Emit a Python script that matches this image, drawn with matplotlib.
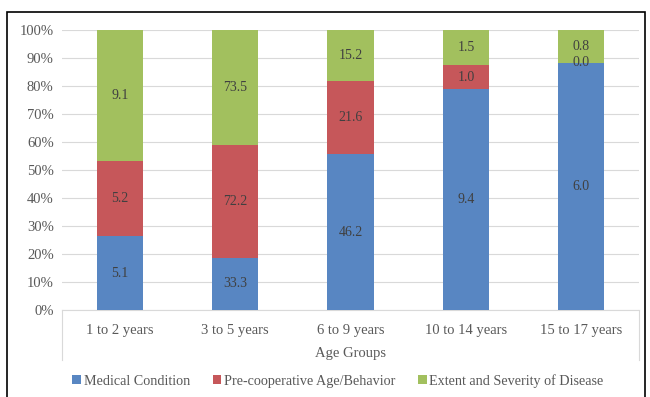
import numpy as np
import matplotlib.pyplot as plt
from matplotlib.patches import Rectangle
from matplotlib.lines import Line2D

plt.rcParams['font.family'] = ['Liberation Serif', 'DejaVu Serif']

groups = ['1 to 2 years', '3 to 5 years', '6 to 9 years', '10 to 14 years', '15 to 17 years']
medical = [5.1, 33.3, 46.2, 9.4, 6.0]
precoop = [5.2, 72.2, 21.6, 1.0, 0.0]
extent = [9.1, 73.5, 15.2, 1.5, 0.8]
names = ['Medical Condition', 'Pre-cooperative Age/Behavior', 'Extent and Severity of Disease']
colors = ['#5886c2', '#c6575a', '#a2c05e']

series = np.array([medical, precoop, extent])
pct = series / series.sum(axis=0) * 100

fig = plt.figure(figsize=(6.5, 3.97), dpi=100)
left, right = 62 / 650, 639 / 650
bot, top = 1 - 310 / 397, 1 - 30 / 397
ax = fig.add_axes([left, bot, right - left, top - bot])

x = np.arange(len(groups))
bottom = np.zeros(len(groups))
for i in range(3):
    ax.bar(x, pct[i], 0.4, bottom=bottom, color=colors[i], label=names[i], zorder=3)
    for j in range(len(groups)):
        ax.text(x[j], bottom[j] + pct[i][j] / 2, '%.1f' % series[i][j],
                ha='center', va='center', fontsize=10, color='#404040', zorder=4)
    bottom += pct[i]

ax.set_xlim(-0.5, len(groups) - 0.5)
ax.set_ylim(0, 100)
ax.set_yticks(np.arange(0, 101, 10))
ax.set_yticklabels(['%d%%' % v for v in range(0, 101, 10)])
ax.yaxis.grid(True, color='#d9d9d9', linewidth=0.8, zorder=0)
ax.tick_params(axis='y', length=0, labelsize=10.5, labelcolor='#595959', pad=6)
ax.set_xticks(x)
ax.set_xticklabels(groups)
ax.tick_params(axis='x', length=0, labelsize=10.5, labelcolor='#595959', pad=10)
for s in ['top', 'right', 'left']:
    ax.spines[s].set_visible(False)
ax.spines['bottom'].set_color('#d9d9d9')
ax.set_xlabel('Age Groups', fontsize=10.5, color='#595959', labelpad=7)

# category axis box sides
for xf in [left, right]:
    fig.add_artist(Line2D([xf, xf], [bot, 1 - 360 / 397], color='#d9d9d9', linewidth=0.8))

handles, labels = ax.get_legend_handles_labels()
fig.legend(handles, labels, loc='center', bbox_to_anchor=(0.52, 1 - 381 / 397), ncol=3,
           frameon=False, fontsize=10.2, handlelength=0.6, handleheight=0.6,
           handletextpad=0.2, columnspacing=1.6, labelcolor='#595959')

fig.add_artist(Rectangle((7 / 650, -0.05), 638 / 650, 1.05 - 12 / 397,
                         transform=fig.transFigure, fill=False,
                         edgecolor='black', linewidth=1.2))

fig.savefig('out.png', dpi=100)
